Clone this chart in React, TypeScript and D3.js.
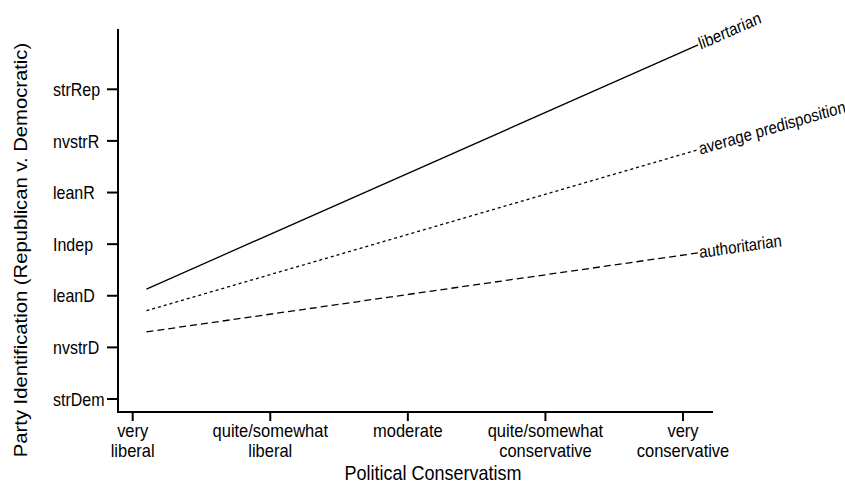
import React, { useRef, useEffect } from 'react';
import * as d3 from 'd3';

// party id scale, 1 = strong Democrat ... 7 = strong Republican
const partyLabels = ['strDem', 'nvstrD', 'leanD', 'Indep', 'leanR', 'nvstrR', 'strRep'];
const ideologyLabels = [
  ['very', 'liberal'],
  ['quite/somewhat', 'liberal'],
  ['moderate'],
  ['quite/somewhat', 'conservative'],
  ['very', 'conservative'],
];

// predicted values at the two ends of the ideology range
const lineX = [1.1, 5.11];
const libertarian = [3.13, 7.86];
const average = [2.71, 5.83];
const authoritarian = [2.3, 3.83];

const series = [
  { name: 'libertarian', values: libertarian, dash: null },
  { name: 'average predisposition', values: average, dash: '3,3' },
  { name: 'authoritarian', values: authoritarian, dash: '7,4' },
];

const FONT = '"Liberation Sans", Arial, Helvetica, sans-serif';
// the original figure looks stretched vertically, so text gets the same stretch
const STRETCH = 1.15;

const App = () => {
  const svgRef = useRef<SVGSVGElement>(null);

  useEffect(() => {
    const svg = d3.select(svgRef.current)
      .attr('width', 845)
      .attr('height', 483)
      .style('display', 'block')
      .style('position', 'absolute')
      .style('left', '0px')
      .style('top', '0px')
      .style('background', '#fff')
      .style('font-family', FONT);
    svg.selectAll('*').remove();

    const label = (x: number, y: number, txt: string, size: number, extra = '') =>
      svg.append('text')
        .attr('transform', `translate(${x},${y}) scale(1,${STRETCH}) ${extra}`)
        .attr('font-size', size)
        .attr('fill', '#000')
        .text(txt);

    // scales
    const x = d3.scaleLinear().domain([1, 5]).range([132.7, 683]);
    const y = d3.scaleLinear().domain([1, 7]).range([399, 89.3]);

    // y axis
    svg.append('line')
      .attr('x1', 118).attr('x2', 118)
      .attr('y1', 29).attr('y2', 412)
      .attr('stroke', '#000').attr('stroke-width', 2);

    partyLabels.forEach((lab, i) => {
      const yy = y(i + 1);
      svg.append('line')
        .attr('x1', 107).attr('x2', 118)
        .attr('y1', yy).attr('y2', yy)
        .attr('stroke', '#000').attr('stroke-width', 2);
      label(53, yy, lab, 16).attr('dy', '0.36em');
    });

    label(27, 250, 'Party Identification (Republican v. Democratic)', 17.6, 'rotate(-90)')
      .attr('text-anchor', 'middle');

    // x axis
    svg.append('line')
      .attr('x1', 117).attr('x2', 713)
      .attr('y1', 412).attr('y2', 412)
      .attr('stroke', '#000').attr('stroke-width', 2);

    ideologyLabels.forEach((lines, i) => {
      const xx = x(i + 1);
      svg.append('line')
        .attr('x1', xx).attr('x2', xx)
        .attr('y1', 412).attr('y2', 421)
        .attr('stroke', '#000').attr('stroke-width', 2);
      lines.forEach((l, j) => {
        label(xx, 437 + j * 20, l, 16.5).attr('text-anchor', 'middle');
      });
    });

    label(433, 480, 'Political Conservatism', 18).attr('text-anchor', 'middle');

    // prediction lines
    const line = d3.line<number>()
      .x((d, i) => x(lineX[i]))
      .y(d => y(d));

    series.forEach(s => {
      const p = svg.append('path')
        .datum(s.values)
        .attr('d', line)
        .attr('fill', 'none')
        .attr('stroke', '#000')
        .attr('stroke-width', 1.3);
      if (s.dash) p.attr('stroke-dasharray', s.dash);

      const x0 = x(lineX[0]), y0 = y(s.values[0]);
      const x1 = x(lineX[1]), y1 = y(s.values[1]);
      // angle before the vertical stretch
      const angle = Math.atan2((y1 - y0) / STRETCH, x1 - x0) * 180 / Math.PI;
      label(x1 + 1, y1, s.name, 15, `rotate(${angle})`).attr('dy', '0.3em');
    });
  }, []);

  return <svg ref={svgRef}></svg>;
};

export default App;
